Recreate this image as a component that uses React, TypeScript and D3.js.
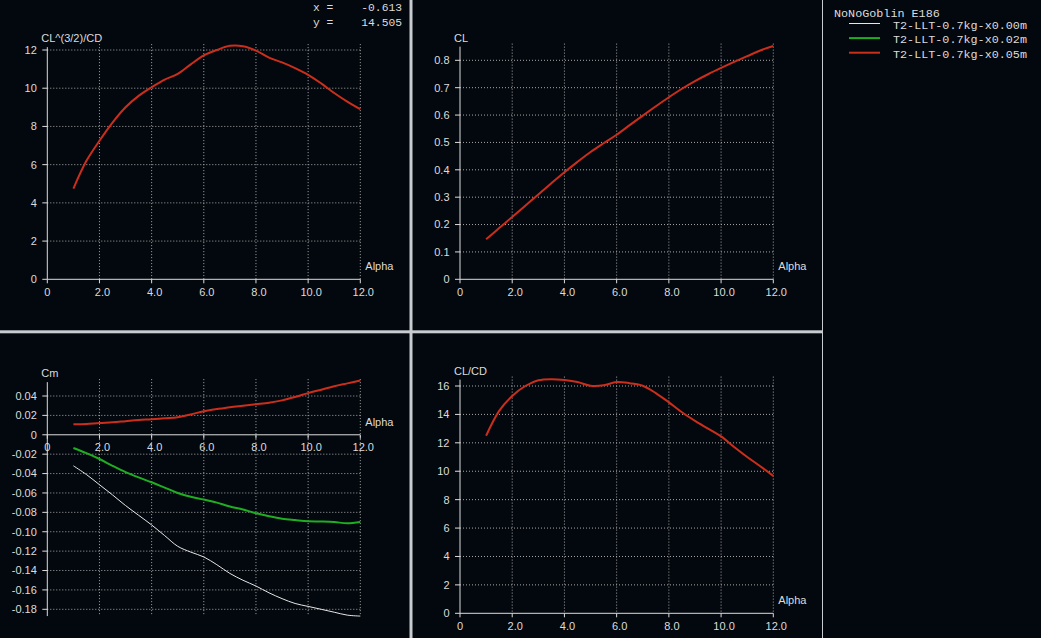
import React from "react";
import * as d3 from "d3";

const alpha = [1.0, 1.5, 2.0, 2.5, 3.0, 3.5, 4.0, 4.5, 5.0, 5.5, 6.0, 6.5, 7.0, 7.5, 8.0, 8.5, 9.0, 9.5, 10.0, 10.5, 11.0, 11.5, 12.0];

const clPowCd = [4.75, 6.2, 7.25, 8.2, 9.0, 9.6, 10.05, 10.45, 10.75, 11.25, 11.72, 12.0, 12.22, 12.2, 11.97, 11.6, 11.35, 11.05, 10.7, 10.25, 9.75, 9.3, 8.9];
const clValues = [0.146, 0.187, 0.228, 0.269, 0.31, 0.351, 0.391, 0.429, 0.465, 0.497, 0.528, 0.563, 0.598, 0.632, 0.665, 0.696, 0.724, 0.749, 0.772, 0.794, 0.815, 0.836, 0.852];
const cmX000 = [-0.032, -0.041, -0.0515, -0.062, -0.073, -0.083, -0.093, -0.104, -0.115, -0.121, -0.126, -0.134, -0.143, -0.15, -0.156, -0.163, -0.169, -0.174, -0.177, -0.18, -0.183, -0.186, -0.187];
const cmX002 = [-0.0136, -0.019, -0.025, -0.032, -0.0385, -0.044, -0.049, -0.0545, -0.06, -0.064, -0.0668, -0.07, -0.074, -0.077, -0.081, -0.084, -0.0865, -0.088, -0.0893, -0.0895, -0.09, -0.0913, -0.09];
const cmX005 = [0.0108, 0.0112, 0.0122, 0.0128, 0.014, 0.0152, 0.016, 0.017, 0.018, 0.021, 0.0243, 0.0265, 0.0285, 0.03, 0.0315, 0.033, 0.0355, 0.039, 0.043, 0.0465, 0.05, 0.053, 0.056];
const clCd = [12.5, 14.25, 15.3, 16.0, 16.4, 16.48, 16.42, 16.28, 16.02, 16.05, 16.28, 16.2, 16.02, 15.5, 14.85, 14.15, 13.55, 13.0, 12.45, 11.7, 11.0, 10.35, 9.67];

const xTicks = [0, 2, 4, 6, 8, 10, 12];
const xTickLabels = ["0", "2.0", "4.0", "6.0", "8.0", "10.0", "12.0"];

const ticksClPow = [0, 2, 4, 6, 8, 10, 12];
const labelsClPow = ["0", "2", "4", "6", "8", "10", "12"];
const ticksCl = [0, 0.1, 0.2, 0.3, 0.4, 0.5, 0.6, 0.7, 0.8];
const labelsCl = ["0", "0.1", "0.2", "0.3", "0.4", "0.5", "0.6", "0.7", "0.8"];
const ticksCm = [0.04, 0.02, 0, -0.02, -0.04, -0.06, -0.08, -0.1, -0.12, -0.14, -0.16, -0.18];
const labelsCm = ["0.04", "0.02", "0", "-0.02", "-0.04", "-0.06", "-0.08", "-0.10", "-0.12", "-0.14", "-0.16", "-0.18"];
const ticksClCd = [0, 2, 4, 6, 8, 10, 12, 14, 16];
const labelsClCd = ["0", "2", "4", "6", "8", "10", "12", "14", "16"];

const legendTitle = "NoNoGoblin E186";
const seriesNames = ["T2-LLT-0.7kg-x0.00m", "T2-LLT-0.7kg-x0.02m", "T2-LLT-0.7kg-x0.05m"];
const seriesColors = ["#e6e6e6", "#1fae22", "#cc2e1c"];
const seriesWidths = [1, 2, 2];

const readoutX = "-0.613";
const readoutY = "14.505";

const BG = "#03080e";
const FG = "#dcdcdc";
const GRID = "#a8a8a8";
const SANS = "'Liberation Sans', Arial, sans-serif";
const MONO = "'Liberation Mono', 'Courier New', monospace";

type Series = { values: number[]; color: string; width: number };
type PanelProps = {
  title: string;
  xRange: [number, number];
  yDomain: [number, number];
  yRange: [number, number];
  yExtent: [number, number];
  yTicks: number[];
  yLabels: string[];
  series: Series[];
};

function Panel({ title, xRange, yDomain, yRange, yExtent, yTicks, yLabels, series }: PanelProps) {
  const x = d3.scaleLinear().domain([0, 12]).range(xRange);
  const y = d3.scaleLinear().domain(yDomain).range(yRange);
  const x0 = x(0);
  const x12 = x(12);
  const y0 = y(0);
  const yTop = y(yExtent[1]);
  const yBot = y(yExtent[0]);
  const line = d3
    .line<number>()
    .x((_, i) => x(alpha[i]))
    .y((d) => y(d))
    .curve(d3.curveCatmullRom.alpha(0.5));
  return (
    <g>
      {xTicks.slice(1).map((t) => (
        <line key={"gx" + t} x1={x(t)} x2={x(t)} y1={yTop - 3} y2={yBot} stroke={GRID} strokeWidth={1} strokeDasharray="1 2" />
      ))}
      {yTicks
        .filter((t) => t !== 0)
        .map((t) => (
          <line key={"gy" + t} x1={x0} x2={x12} y1={y(t)} y2={y(t)} stroke={GRID} strokeWidth={1} strokeDasharray="1 2" />
        ))}
      <line x1={x0} x2={x0} y1={yTop} y2={yBot} stroke={FG} strokeWidth={1} />
      <line x1={x0} x2={x12} y1={y0} y2={y0} stroke={FG} strokeWidth={1} />
      {yTicks.map((t, i) => (
        <g key={"yt" + t}>
          <line x1={x0 - 5} x2={x0} y1={y(t)} y2={y(t)} stroke={FG} strokeWidth={1} />
          <text x={x0 - 10.5} y={y(t)} dy="0.35em" textAnchor="end" fill={FG} fontFamily={SANS} fontSize={11}>
            {yLabels[i]}
          </text>
        </g>
      ))}
      {xTicks.map((t, i) => (
        <g key={"xt" + t}>
          <line x1={x(t)} x2={x(t)} y1={y0} y2={y0 + 4} stroke={FG} strokeWidth={1} />
          <text x={x(t) + (t === 0 ? 0 : 3)} y={y0 + 16.5} textAnchor="middle" fill={FG} fontFamily={SANS} fontSize={11}>
            {xTickLabels[i]}
          </text>
        </g>
      ))}
      <text x={x12 + 5} y={y0 - 9} fill={FG} fontFamily={SANS} fontSize={11}>
        Alpha
      </text>
      <text x={x0 - 6} y={yTop - 5} fill={FG} fontFamily={SANS} fontSize={11}>
        {title}
      </text>
      {series.map((s, i) => (
        <path key={"s" + i} d={line(s.values) || ""} fill="none" stroke={s.color} strokeWidth={s.width} strokeLinejoin="round" />
      ))}
    </g>
  );
}

export default function App() {
  const red: Series = { values: [], color: seriesColors[2], width: seriesWidths[2] };
  return (
    <svg
      width={1041}
      height={638}
      style={{ position: "fixed", left: 0, top: 0, display: "block", background: BG }}
    >
      <rect x={0} y={0} width={1041} height={638} fill={BG} />
      <text x={313} y={11} fill={FG} fontFamily={MONO} fontSize={11.3}>x =</text>
      <text x={402} y={11} textAnchor="end" fill={FG} fontFamily={MONO} fontSize={11.3}>{readoutX}</text>
      <text x={313} y={26} fill={FG} fontFamily={MONO} fontSize={11.3}>y =</text>
      <text x={402} y={26} textAnchor="end" fill={FG} fontFamily={MONO} fontSize={11.3}>{readoutY}</text>

      <Panel
        title="CL^(3/2)/CD"
        xRange={[47.3, 360.3]}
        yDomain={[0, 12]}
        yRange={[279.3, 50]}
        yExtent={[0, 12.15]}
        yTicks={ticksClPow}
        yLabels={labelsClPow}
        series={[{ ...red, values: clPowCd }]}
      />
      <Panel
        title="CL"
        xRange={[460, 773.3]}
        yDomain={[0, 0.8]}
        yRange={[279.3, 60.3]}
        yExtent={[0, 0.85]}
        yTicks={ticksCl}
        yLabels={labelsCl}
        series={[{ ...red, values: clValues }]}
      />
      <Panel
        title="Cm"
        xRange={[47.3, 360.3]}
        yDomain={[-0.18, 0.04]}
        yRange={[609.3, 396]}
        yExtent={[-0.187, 0.0543]}
        yTicks={ticksCm}
        yLabels={labelsCm}
        series={[
          { values: cmX000, color: seriesColors[0], width: seriesWidths[0] },
          { values: cmX002, color: seriesColors[1], width: seriesWidths[1] },
          { values: cmX005, color: seriesColors[2], width: seriesWidths[2] },
        ]}
      />
      <Panel
        title="CL/CD"
        xRange={[460, 773.3]}
        yDomain={[0, 16]}
        yRange={[613.3, 386]}
        yExtent={[0, 16.45]}
        yTicks={ticksClCd}
        yLabels={labelsClCd}
        series={[{ ...red, values: clCd }]}
      />

      <rect x={409.5} y={0} width={3} height={638} fill="#c8ccd0" />
      <rect x={0} y={330.3} width={822} height={3} fill="#c8ccd0" />
      <rect x={822} y={0} width={1} height={638} fill="#c8ccd0" />

      <text x={834} y={16.5} fill={FG} fontFamily={MONO} fontSize={11.75}>{legendTitle}</text>
      {seriesNames.map((n, i) => (
        <g key={n}>
          <line x1={849} x2={880} y1={23.5 + i * 14.6} y2={23.5 + i * 14.6} stroke={seriesColors[i]} strokeWidth={i === 0 ? 1 : 2} />
          <text x={893} y={28.5 + i * 14.6} fill={FG} fontFamily={MONO} fontSize={11.75}>{n}</text>
        </g>
      ))}
    </svg>
  );
}
